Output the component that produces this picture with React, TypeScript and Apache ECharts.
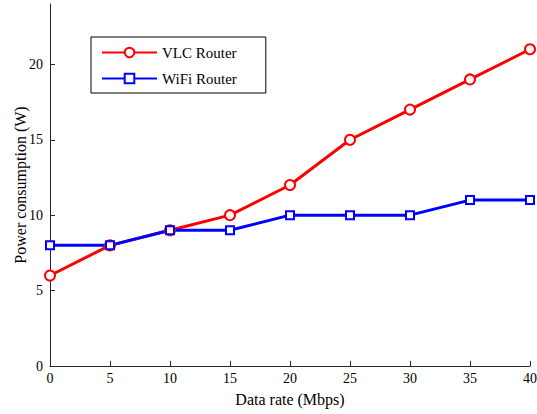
import React, { useEffect, useRef } from "react";
import * as echarts from "echarts";

const dataRates = [0, 5, 10, 15, 20, 25, 30, 35, 40];
const vlcPower = [6, 8, 9, 10, 12, 15, 17, 19, 21];
const wifiPower = [8, 8, 9, 9, 10, 10, 10, 11, 11];
const seriesNames = ["VLC Router", "WiFi Router"];

const FONT = "'Liberation Serif', 'Times New Roman', serif";

export default function App() {
  const ref = useRef<HTMLDivElement>(null);
  useEffect(() => {
    if (!ref.current) return;
    const chart = echarts.init(ref.current, undefined, { renderer: "svg" });
    chart.setOption({
      animation: false,
      backgroundColor: "#fff",
      textStyle: { fontFamily: FONT },
      grid: { left: 50, right: 7, top: 4, bottom: 48, containLabel: false, outerBoundsMode: "none" },
      legend: {
        left: 91,
        top: 37,
        orient: "vertical",
        itemWidth: 55,
        itemHeight: 12,
        itemGap: 11,
        padding: [8, 29, 7, 10],
        borderColor: "#000",
        borderWidth: 1,
        backgroundColor: "#fff",
        textStyle: { fontFamily: FONT, fontSize: 15, color: "#000" },
        data: seriesNames,
      },
      xAxis: {
        type: "value",
        min: 0,
        max: 40,
        interval: 5,
        name: "Data rate (Mbps)",
        nameLocation: "middle",
        nameGap: 25,
        nameMoveOverlap: false,
        nameTextStyle: { fontFamily: FONT, fontSize: 16, color: "#000" },
        axisLine: { lineStyle: { color: "#262626", width: 1 } },
        axisTick: { inside: true, length: 5, lineStyle: { color: "#262626" } },
        axisLabel: { fontFamily: FONT, fontSize: 14, color: "#000", margin: 5 },
        splitLine: { show: false },
      },
      yAxis: {
        type: "value",
        min: 0,
        max: 24,
        interval: 5,
        name: "Power consumption (W)",
        nameLocation: "middle",
        nameGap: 22,
        nameMoveOverlap: false,
        nameTextStyle: { fontFamily: FONT, fontSize: 16, color: "#000" },
        axisLine: { show: true, lineStyle: { color: "#262626", width: 1 } },
        axisTick: { show: true, inside: true, length: 5, lineStyle: { color: "#262626" } },
        axisLabel: {
          fontFamily: FONT,
          fontSize: 14,
          color: "#000",
          margin: 7,
          showMaxLabel: false,
        },
        splitLine: { show: false },
      },
      series: [
        {
          name: seriesNames[0],
          type: "line",
          data: dataRates.map((x, i) => [x, vlcPower[i]]),
          symbol: "emptyCircle",
          symbolSize: 10,
          lineStyle: { color: "#ff0000", width: 3 },
          itemStyle: { color: "#ff0000", borderColor: "#ff0000", borderWidth: 2.5 },
        },
        {
          name: seriesNames[1],
          type: "line",
          data: dataRates.map((x, i) => [x, wifiPower[i]]),
          symbol: "emptyRect",
          symbolSize: 8,
          lineStyle: { color: "#0000ff", width: 3 },
          itemStyle: { color: "#0000ff", borderColor: "#0000ff", borderWidth: 2.5 },
        },
      ],
    });
    return () => chart.dispose();
  }, []);
  return <div ref={ref} style={{ width: 537, height: 414, position: "absolute", left: 0, top: 0 }} />;
}
